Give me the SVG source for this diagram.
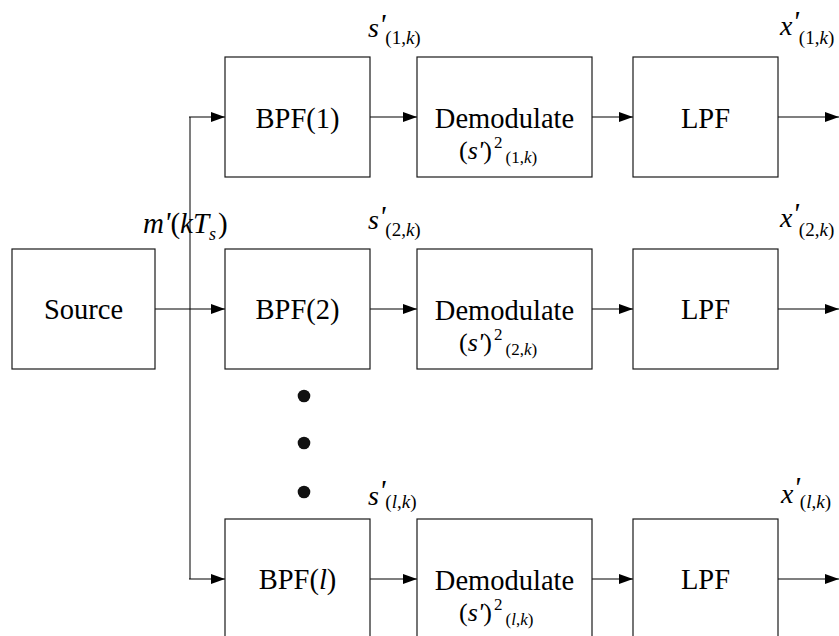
<svg xmlns="http://www.w3.org/2000/svg" width="839" height="636" viewBox="0 0 839 636">
  <style>
    .box { fill: #ffffff; stroke: #1a1a1a; stroke-width: 1.2; }
    .wire { fill: none; stroke: #000000; stroke-width: 1.2; }
    .bus { fill: none; stroke: #707070; stroke-width: 1.8; }
    .lbl { font-size: 28.5px; text-anchor: middle; fill: #000000; }
    .it { font-style: italic; }
    .dot { fill: #111111; }
  </style>
  <defs>
    <marker id="arrow" viewBox="0 0 14 10" refX="14" refY="5" markerWidth="14" markerHeight="10" markerUnits="userSpaceOnUse" orient="auto">
      <path d="M0,0 L14,5 L0,10 Z" fill="#000000"/>
    </marker>
  </defs>

  <!-- connectors -->
  <g id="connectors">
    <line class="bus" x1="190" y1="117" x2="190" y2="579"/>
    <line class="wire" x1="189" y1="117" x2="225" y2="117" marker-end="url(#arrow)"/>
    <line class="wire" x1="155" y1="309" x2="225" y2="309" marker-end="url(#arrow)"/>
    <line class="wire" x1="189" y1="579" x2="225" y2="579" marker-end="url(#arrow)"/>

    <line class="wire" x1="370" y1="117" x2="417" y2="117" marker-end="url(#arrow)"/>
    <line class="wire" x1="592" y1="117" x2="633" y2="117" marker-end="url(#arrow)"/>
    <line class="wire" x1="778" y1="117" x2="839" y2="117" marker-end="url(#arrow)"/>

    <line class="wire" x1="370" y1="309" x2="417" y2="309" marker-end="url(#arrow)"/>
    <line class="wire" x1="592" y1="309" x2="633" y2="309" marker-end="url(#arrow)"/>
    <line class="wire" x1="778" y1="309" x2="839" y2="309" marker-end="url(#arrow)"/>

    <line class="wire" x1="370" y1="579" x2="417" y2="579" marker-end="url(#arrow)"/>
    <line class="wire" x1="592" y1="579" x2="633" y2="579" marker-end="url(#arrow)"/>
    <line class="wire" x1="778" y1="579" x2="839" y2="579" marker-end="url(#arrow)"/>
  </g>

  <!-- source -->
  <g id="source">
    <rect class="box" x="12" y="249" width="143" height="120"/>
    <text class="lbl" font-family="Liberation Serif" x="83.5" y="319">Source</text>
  </g>
  <g id="sig-m">
    <text font-family="Liberation Serif" x="143" y="233" font-size="29"><tspan class="it">m</tspan><tspan class="it" dy="-1" font-size="30">'</tspan><tspan dy="1">(</tspan><tspan class="it">kT</tspan><tspan class="it" font-size="18" dy="7">s</tspan><tspan dx="2" dy="-7">)</tspan></text>
  </g>

  <!-- branch 1 -->
  <g id="bpf1">
    <rect class="box" x="225" y="57" width="145" height="120"/>
    <text class="lbl" font-family="Liberation Serif" x="297.5" y="128">BPF(1)</text>
  </g>
  <g id="demod1">
    <rect class="box" x="417" y="57" width="175" height="120"/>
    <text class="lbl" font-family="Liberation Serif" x="504.5" y="128">Demodulate</text>
    <text font-family="Liberation Serif" x="459" y="159" font-size="26">(<tspan class="it">s</tspan><tspan class="it">'</tspan>)<tspan font-size="17" dx="2" dy="-11">2</tspan><tspan font-size="17" dx="3" dy="15">(1,<tspan class="it">k</tspan>)</tspan></text>
  </g>
  <g id="lpf1">
    <rect class="box" x="633" y="57" width="145" height="120"/>
    <text class="lbl" font-family="Liberation Serif" x="705.5" y="128">LPF</text>
  </g>
  <g id="sig-s1">
    <text font-family="Liberation Serif" x="368" y="37" font-size="28"><tspan class="it">s</tspan><tspan class="it" dy="-3" font-size="30">'</tspan><tspan font-size="19" dy="10">(1,<tspan class="it">k</tspan>)</tspan></text>
  </g>
  <g id="sig-x1">
    <text font-family="Liberation Serif" x="780" y="35" font-size="28"><tspan class="it">x</tspan><tspan class="it" dy="-4" font-size="30">'</tspan><tspan font-size="19" dy="13">(1,<tspan class="it">k</tspan>)</tspan></text>
  </g>

  <!-- branch 2 -->
  <g id="bpf2">
    <rect class="box" x="225" y="249" width="145" height="120"/>
    <text class="lbl" font-family="Liberation Serif" x="297.5" y="319">BPF(2)</text>
  </g>
  <g id="demod2">
    <rect class="box" x="417" y="249" width="175" height="120"/>
    <text class="lbl" font-family="Liberation Serif" x="504.5" y="320">Demodulate</text>
    <text font-family="Liberation Serif" x="459" y="351" font-size="26">(<tspan class="it">s</tspan><tspan class="it">'</tspan>)<tspan font-size="17" dx="2" dy="-11">2</tspan><tspan font-size="17" dx="3" dy="15">(2,<tspan class="it">k</tspan>)</tspan></text>
  </g>
  <g id="lpf2">
    <rect class="box" x="633" y="249" width="145" height="120"/>
    <text class="lbl" font-family="Liberation Serif" x="705.5" y="319">LPF</text>
  </g>
  <g id="sig-s2">
    <text font-family="Liberation Serif" x="368" y="229" font-size="28"><tspan class="it">s</tspan><tspan class="it" dy="-3" font-size="30">'</tspan><tspan font-size="19" dy="10">(2,<tspan class="it">k</tspan>)</tspan></text>
  </g>
  <g id="sig-x2">
    <text font-family="Liberation Serif" x="780" y="227" font-size="28"><tspan class="it">x</tspan><tspan class="it" dy="-4" font-size="30">'</tspan><tspan font-size="19" dy="13">(2,<tspan class="it">k</tspan>)</tspan></text>
  </g>

  <!-- ellipsis between branches -->
  <g id="ellipsis">
    <circle class="dot" cx="304" cy="396" r="6.3"/>
    <circle class="dot" cx="304" cy="443" r="6.3"/>
    <circle class="dot" cx="304" cy="492" r="6.3"/>
  </g>

  <!-- branch l -->
  <g id="bpfl">
    <rect class="box" x="225" y="519" width="145" height="122"/>
    <text class="lbl" font-family="Liberation Serif" x="297.5" y="589">BPF(<tspan class="it">l</tspan>)</text>
  </g>
  <g id="demodl">
    <rect class="box" x="417" y="519" width="175" height="122"/>
    <text class="lbl" font-family="Liberation Serif" x="504.5" y="590">Demodulate</text>
    <text font-family="Liberation Serif" x="459" y="621" font-size="26">(<tspan class="it">s</tspan><tspan class="it">'</tspan>)<tspan font-size="17" dx="2" dy="-11">2</tspan><tspan font-size="17" dx="3" dy="15">(<tspan class="it">l</tspan>,<tspan class="it">k</tspan>)</tspan></text>
  </g>
  <g id="lpfl">
    <rect class="box" x="633" y="519" width="145" height="122"/>
    <text class="lbl" font-family="Liberation Serif" x="705.5" y="589">LPF</text>
  </g>
  <g id="sig-sl">
    <text font-family="Liberation Serif" x="368" y="505" font-size="28"><tspan class="it">s</tspan><tspan class="it" dy="-5" font-size="30">'</tspan><tspan font-size="19" dy="8">(<tspan class="it">l</tspan>,<tspan class="it">k</tspan>)</tspan></text>
  </g>
  <g id="sig-xl">
    <text font-family="Liberation Serif" x="781" y="503" font-size="28"><tspan class="it">x</tspan><tspan class="it" dy="-6" font-size="30">'</tspan><tspan font-size="19" dy="11">(<tspan class="it">l</tspan>,<tspan class="it">k</tspan>)</tspan></text>
  </g>
</svg>
